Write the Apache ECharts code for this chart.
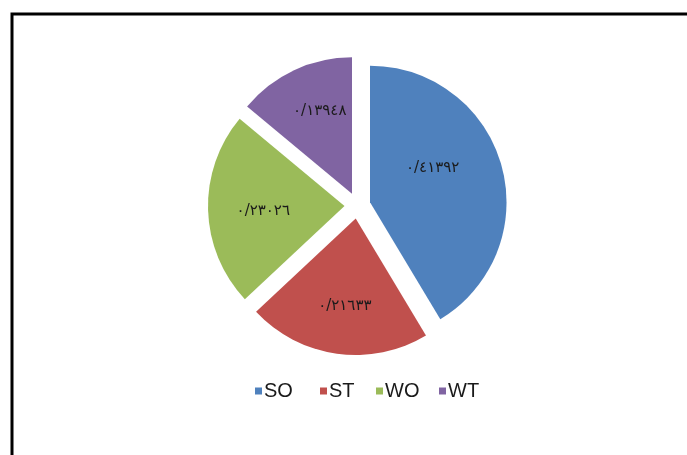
<!DOCTYPE html>
<html>
<head>
<meta charset="utf-8">
<script src="https://cdn.jsdelivr.net/npm/echarts@6/dist/echarts.min.js"></script>
<style>
html,body{margin:0;padding:0;background:#fff;}
#chart{width:687px;height:455px;}
</style>
</head>
<body>
<div id="chart"></div>
<script>
const categories = ['SO', 'ST', 'WO', 'WT'];
const values = [0.41392, 0.21633, 0.23026, 0.13948];
const colors = ['#4F81BD', '#C0504D', '#9BBB59', '#8064A2'];

function toArabicDigits(v) {
  const d = '٠١٢٣٤٥٦٧٨٩';
  return String(v).replace(/[0-9]/g, c => d[+c]).replace('.', '/');
}

const legendLeft = [255, 320, 376, 439];
const labelShift = [[-6, -15], [-1, 17], [-10, 3], [-2, -18]];

const chart = echarts.init(document.getElementById('chart'), null, {renderer: 'canvas'});
chart.setOption({
  animation: false,
  backgroundColor: '#fff',
  color: colors,
  graphic: [{
    type: 'rect',
    shape: {x: 12, y: 14, width: 720, height: 480},
    style: {fill: null, stroke: '#000', lineWidth: 3},
    silent: true
  }],
  legend: categories.map((c, i) => ({
    data: [c],
    left: legendLeft[i],
    top: 381,
    padding: 0,
    icon: 'rect',
    itemWidth: 7,
    itemHeight: 7,
    textStyle: {fontSize: 20, fontFamily: 'Liberation Sans', color: '#1a1a1a', padding: [0, 0, 0, -3]},
    selectedMode: false
  })),
  series: [{
    type: 'pie',
    center: [357.5, 205.6],
    radius: [0, 136.5],
    startAngle: 90,
    clockwise: true,
    selectedMode: 'multiple',
    selectedOffset: 13,
    emphasis: {disabled: true},
    itemStyle: {borderWidth: 0},
    label: {
      show: true,
      position: 'inside',
      color: '#1a1a1a',
      fontSize: 15,
      fontFamily: 'DejaVu Sans',
      formatter: p => toArabicDigits(p.value)
    },
    labelLayout: p => ({dx: labelShift[p.dataIndex][0], dy: labelShift[p.dataIndex][1]}),
    labelLine: {show: false},
    data: categories.map((c, i) => ({name: c, value: values[i], selected: true}))
  }]
});
</script>
</body>
</html>
